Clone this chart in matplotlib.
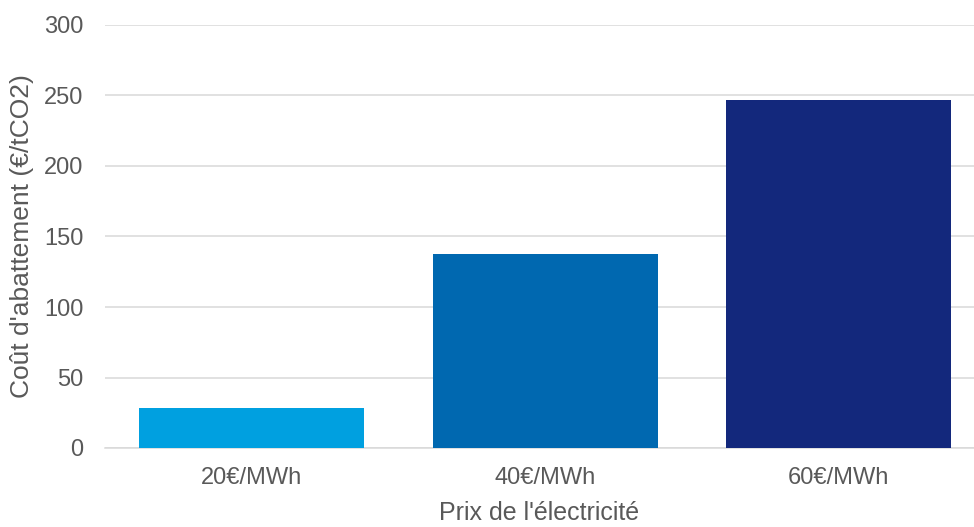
import matplotlib.pyplot as plt

plt.rcParams['font.family'] = ['Liberation Sans', 'DejaVu Sans']

# Abatement cost by electricity price
categories = ['20€/MWh', '40€/MWh', '60€/MWh']
costs = [28.5, 137.5, 247]
colors = ['#00A0E0', '#0068B0', '#13287C']

fig = plt.figure(figsize=(9.74, 5.27), dpi=100)
ax = fig.add_axes([105 / 974, 79 / 527, 869 / 974, 423 / 527])

x = range(len(categories))
ax.bar(x, costs, width=0.767, color=colors, zorder=3)

ax.set_xlim(-0.5, 2.461)
ax.set_ylim(0, 300)
ax.set_yticks(range(0, 301, 50))
ax.set_xticks(list(x))
ax.set_xticklabels(categories)

ax.grid(axis='y', color='#D9D9D9', linewidth=1.1, zorder=0)
for s in ['top', 'right', 'left']:
    ax.spines[s].set_visible(False)
ax.spines['bottom'].set_color('#D9D9D9')
ax.spines['bottom'].set_linewidth(1.1)
ax.tick_params(axis='both', length=0, labelsize=17, labelcolor='#595959')
ax.tick_params(axis='y', pad=15.5)
ax.tick_params(axis='x', pad=14)

ax.set_xlabel("Prix de l'électricité", fontsize=18, color='#595959', labelpad=8)
ax.set_ylabel("Coût d'abattement (€/tCO2)", fontsize=19, color='#595959', labelpad=7)

plt.savefig('out.png', dpi=100)
